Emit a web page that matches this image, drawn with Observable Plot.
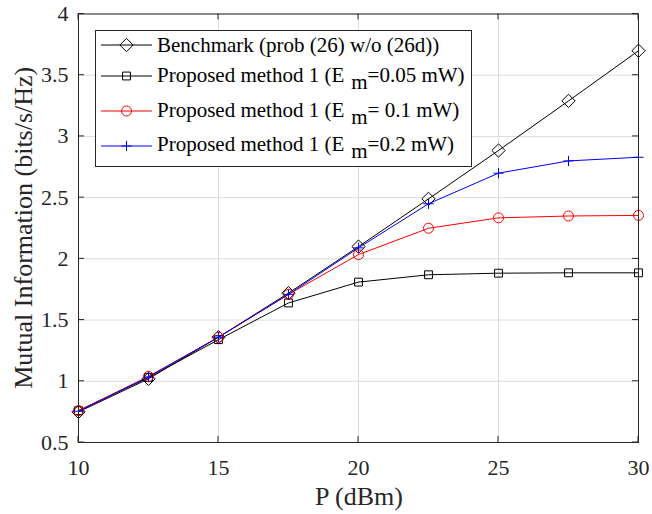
<!DOCTYPE html>
<html><head><meta charset="utf-8">
<script src="https://cdn.jsdelivr.net/npm/d3@7"></script>
<script src="https://cdn.jsdelivr.net/npm/@observablehq/plot@0.6"></script>
<style>
body{margin:0;background:#fff}
svg{font-family:"Liberation Serif","Times New Roman",serif}
</style>
</head><body><div id="chart"></div>
<script>
const power = [10, 12.5, 15, 17.5, 20, 22.5, 25, 27.5, 30];
const benchmark = [0.75, 1.02, 1.36, 1.72, 2.10, 2.49, 2.885, 3.29, 3.70];
const em005 = [0.76, 1.03, 1.34, 1.64, 1.81, 1.87, 1.883, 1.886, 1.886];
const em01 = [0.76, 1.04, 1.36, 1.71, 2.035, 2.25, 2.335, 2.35, 2.355];
const em02 = [0.755, 1.035, 1.36, 1.71, 2.09, 2.45, 2.70, 2.80, 2.83];
const xTicks = [10, 15, 20, 25, 30];
const yTicks = [0.5, 1, 1.5, 2, 2.5, 3, 3.5, 4];
const legendMain = ["Benchmark (prob (26) w/o (26d))", "Proposed method 1 (E", "Proposed method 1 (E", "Proposed method 1 (E"];
const legendTail = ["", "=0.05 mW)", "= 0.1 mW)", "=0.2 mW)"];

const series = [
  {values: benchmark, color: "#000000", symbol: "diamond2", r: 6},
  {values: em005, color: "#000000", symbol: "square2", r: 5},
  {values: em01, color: "#ff0000", symbol: "circle", r: 5},
  {values: em02, color: "#0000ff", symbol: "plus", r: 3.4}
];
const rows = series.flatMap((s, i) => power.map((p, j) => ({p, v: s.values[j], k: i})));

const marks = [
  Plot.gridX(xTicks, {stroke: "#dcdcdc", strokeOpacity: 1}),
  Plot.gridY(yTicks, {stroke: "#dcdcdc", strokeOpacity: 1}),
  Plot.axisX(xTicks, {tickSize: 0, tickPadding: 17, fontSize: 22, label: null, tickFormat: d => String(d)}),
  Plot.axisY(yTicks, {tickSize: 0, tickPadding: 10, fontSize: 22, label: null, tickFormat: d => String(d)}),
];
series.forEach((s, i) => {
  const d = rows.filter(r => r.k === i);
  marks.push(Plot.line(d, {x: "p", y: "v", stroke: s.color, strokeWidth: 1}));
});
series.forEach((s, i) => {
  const d = rows.filter(r => r.k === i);
  marks.push(Plot.dot(d, {x: "p", y: "v", stroke: s.color, symbol: () => s.symbol, r: s.r, strokeWidth: 1, fill: "none"}));
});
marks.push(Plot.frame({stroke: "#262626", strokeWidth: 1}));

const plot = Plot.plot({
  width: 652, height: 514,
  marginLeft: 78, marginRight: 14, marginTop: 13.5, marginBottom: 72,
  x: {domain: [10, 30]},
  y: {domain: [0.5, 4]},
  symbol: {type: "identity"},
  style: {fontFamily: '"Liberation Serif","Times New Roman",serif', color: "#262626", background: "#fff"},
  marks
});
document.getElementById("chart").appendChild(plot);

const svg = d3.select(plot);
const xs = plot.scale("x"), ys = plot.scale("y");
const x0 = xs.range[0], x1 = xs.range[1], y0 = ys.range[0], y1 = ys.range[1];
const tk = svg.append("g").attr("stroke", "#262626").attr("stroke-width", 1);
xTicks.forEach(t => {
  const x = xs.apply(t);
  tk.append("line").attr("x1", x).attr("x2", x).attr("y1", y0).attr("y2", y0 - 6);
  tk.append("line").attr("x1", x).attr("x2", x).attr("y1", y1).attr("y2", y1 + 6);
});
yTicks.forEach(t => {
  const y = ys.apply(t);
  tk.append("line").attr("y1", y).attr("y2", y).attr("x1", x0).attr("x2", x0 + 6);
  tk.append("line").attr("y1", y).attr("y2", y).attr("x1", x1).attr("x2", x1 - 6);
});

// axis titles
svg.append("text").attr("x", 359).attr("y", 505).attr("text-anchor", "middle")
  .attr("font-size", 26).attr("fill", "#262626").text("P (dBm)");
svg.append("text").attr("transform", `translate(32,${(y0 + y1) / 2}) rotate(-90)`).attr("text-anchor", "middle")
  .attr("font-size", 26).attr("fill", "#262626").text("Mutual Information (bits/s/Hz)");

// legend
const lg = svg.append("g");
lg.append("rect").attr("x", 95.5).attr("y", 30.5).attr("width", 376).attr("height", 136)
  .attr("fill", "#fff").attr("stroke", "#262626").attr("stroke-width", 1);
const lineY = [45, 76, 111, 146];
const baseY = [52, 82, 117, 151];
series.forEach((s, i) => {
  const y = lineY[i];
  lg.append("line").attr("x1", 101).attr("x2", 152).attr("y1", y).attr("y2", y).attr("stroke", s.color).attr("stroke-width", 1);
  const sym = s.symbol === "diamond2" ? d3.symbolDiamond2 : s.symbol === "square2" ? d3.symbolSquare2 : s.symbol === "circle" ? d3.symbolCircle : d3.symbolPlus;
  lg.append("path").attr("transform", `translate(126.5,${y})`).attr("d", d3.symbol(sym, Math.PI * s.r * s.r)())
    .attr("fill", "none").attr("stroke", s.color).attr("stroke-width", 1);
  const t = lg.append("text").attr("x", 157).attr("y", baseY[i]).attr("font-size", 21)
    .attr("text-anchor", "start").attr("fill", "#000");
  t.append("tspan").text(legendMain[i]);
  if (legendTail[i]) {
    t.append("tspan").attr("dx", 7).attr("dy", 7).text("m");
    t.append("tspan").attr("dy", -7).text(legendTail[i]);
  }
});
</script>
</body></html>
